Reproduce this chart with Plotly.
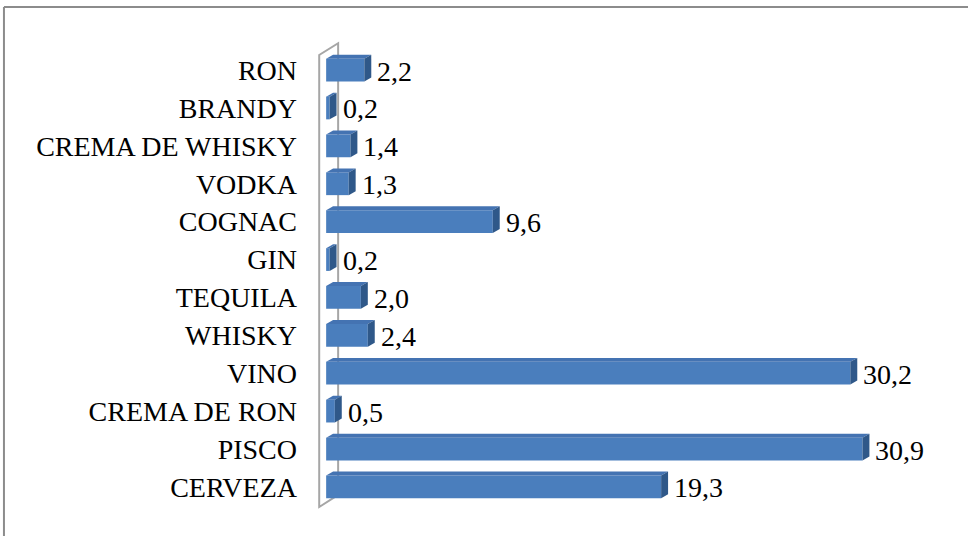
import plotly.graph_objects as go

# Consumption share by beverage (%), listed bottom to top
categories = ["CERVEZA", "PISCO", "CREMA DE RON", "VINO", "WHISKY", "TEQUILA",
              "GIN", "COGNAC", "VODKA", "CREMA DE WHISKY", "BRANDY", "RON"]
values = [19.3, 30.9, 0.5, 30.2, 2.4, 2.0, 0.2, 9.6, 1.3, 1.4, 0.2, 2.2]
value_labels = [f"{v:.1f}".replace(".", ",") for v in values]
positions = list(range(len(categories)))

FRONT = "#4a7ebd"
TOP = "#4473b2"
SIDE = "#2f5889"
WALL = "#a6a6a6"
FONT = "Liberation Serif"

HALF = 0.3     # half bar thickness (y units)
DX = 0.40      # depth offset along x
DY = 0.105     # depth offset along y

W, H = 968, 536
L, R, T, B = 313.9, 17.4, 36.0, 14.9
XR = [-0.7, 36.0]
YR = [-0.9, 11.9]

fig = go.Figure()

fig.add_trace(go.Bar(
    x=values, y=positions, orientation="h", width=2 * HALF,
    marker=dict(color=FRONT, line=dict(width=0)),
    hoverinfo="skip",
))

shapes = []

# back wall of the 3D plot
shapes.append(dict(
    type="path", xref="x", yref="y", layer="below",
    path="M -0.40 -0.53 L -0.40 11.40 L 0.69 11.71 L 0.69 -0.21 Z",
    line=dict(color=WALL, width=2), fillcolor="rgba(0,0,0,0)",
))

# top and end faces of each bar
for yc, v in zip(positions, values):
    y0, y1 = yc - HALF, yc + HALF
    shapes.append(dict(
        type="path", xref="x", yref="y", layer="above",
        path=f"M 0 {y1} L {v} {y1} L {v + DX} {y1 + DY} L {DX} {y1 + DY} Z",
        line=dict(width=0), fillcolor=TOP,
    ))
    shapes.append(dict(
        type="path", xref="x", yref="y", layer="above",
        path=f"M {v} {y0} L {v + DX} {y0 + DY} L {v + DX} {y1 + DY} L {v} {y1} Z",
        line=dict(width=0), fillcolor=SIDE,
    ))

# chart frame (left and top edges)
pw = W - L - R
ph = H - T - B
def px_x(p):
    return (p - L) / pw
def px_y(p):
    return (H - B - p) / ph

shapes.append(dict(type="line", xref="paper", yref="paper",
                   x0=px_x(4), x1=px_x(4), y0=px_y(7), y1=px_y(545),
                   line=dict(color="#8c8c8c", width=2)))
shapes.append(dict(type="line", xref="paper", yref="paper",
                   x0=px_x(4), x1=px_x(980), y0=px_y(7), y1=px_y(7),
                   line=dict(color="#8c8c8c", width=2)))

annotations = [
    dict(x=v, y=yc, xref="x", yref="y", text=t, showarrow=False,
         xanchor="left", yanchor="middle", xshift=11, yshift=-1,
         font=dict(family=FONT, size=28, color="black"))
    for yc, v, t in zip(positions, values, value_labels)
]

fig.update_layout(
    width=W, height=H,
    margin=dict(l=L, r=R, t=T, b=B, pad=0),
    paper_bgcolor="white", plot_bgcolor="white",
    showlegend=False,
    shapes=shapes,
    annotations=annotations,
    xaxis=dict(range=XR, visible=False, showgrid=False, zeroline=False),
    yaxis=dict(range=YR, tickvals=positions, ticktext=categories,
               showgrid=False, zeroline=False, showline=False, ticks="",
               ticklabelstandoff=16,
               tickfont=dict(family=FONT, size=28, color="black")),
)

fig.write_html("out.html", config={"displayModeBar": False})
